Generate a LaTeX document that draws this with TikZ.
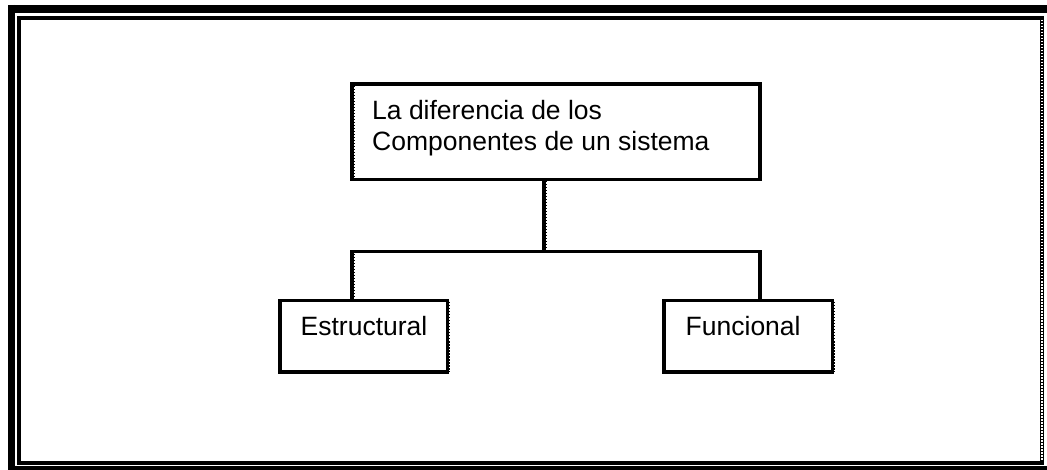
\documentclass[tikz,border=0pt]{standalone}
\usepackage{fontspec}
\setmainfont{Liberation Sans}
\tikzset{
  box/.style={draw=black,line width=3.2pt,fill=white,inner sep=0pt,outer sep=0pt,anchor=north west},
  link/.style={draw=black,line width=3.2pt},
  fringe/.style={draw=black,line width=1.2pt,dash pattern=on 1.5pt off 1.5pt},
  txt/.style={anchor=base west,inner sep=0pt,font=\fontsize{26.5}{30}\selectfont,text=black}
}
\begin{document}
\begin{tikzpicture}[x=1pt,y=-1pt]
\useasboundingbox (0,0) rectangle (1047,470);
\fill[white] (0,0) rectangle (1047,470);
% double frame
\draw[black,line width=8pt] (8,9) -- (1047,9);
\draw[black,line width=7pt] (11.5,5) -- (11.5,470);
\draw[black,line width=4pt] (8,468) -- (1047,468);
\draw[black,line width=4pt] (19,18) -- (1042,18) -- (1042,463) -- (19,463) -- cycle;
\draw[white,line width=1.2pt,dash pattern=on 1.5pt off 1.5pt] (1042,20) -- (1042,461);
% boxes
\node[box,minimum width=408pt,minimum height=95.7pt] (top) at (352,84) {};
\node[box,minimum width=167.5pt,minimum height=71.3pt] (est) at (280,300.7) {};
\node[box,minimum width=168.5pt,minimum height=71.3pt] (fun) at (664,300.7) {};
% connectors
\coordinate (stem) at (544,251.5);
\coordinate (lcorner) at (352,251.5);
\coordinate (rcorner) at (760,251.5);
\coordinate (topstem) at (stem |- top.south);
\coordinate (lfoot) at (lcorner |- est.north);
\coordinate (rfoot) at (rcorner |- fun.north);
\draw[link] (topstem) -- (stem);
\draw[link,line join=miter] (lfoot) -- (lcorner) -- (rcorner) -- (rfoot);
% dotted fringes
\draw[fringe] (546.2,181) -- (546.2,250);
\draw[fringe] (354.2,254) -- (354.2,299);
\draw[fringe] (354.2,86) -- (354.2,178);
\draw[fringe] (449.2,302) -- (449.2,372);
\draw[fringe] (834.2,302) -- (834.2,372);
% labels
\node[txt] (t1) at (372,120) {La diferencia de los};
\node[txt] (t2) at (372,151) {Componentes de un sistema};
\node[txt] (t3) at (300.5,336) {Estructural};
\node[txt] (t4) at (685.5,336) {Funcional};
\end{tikzpicture}
\end{document}
